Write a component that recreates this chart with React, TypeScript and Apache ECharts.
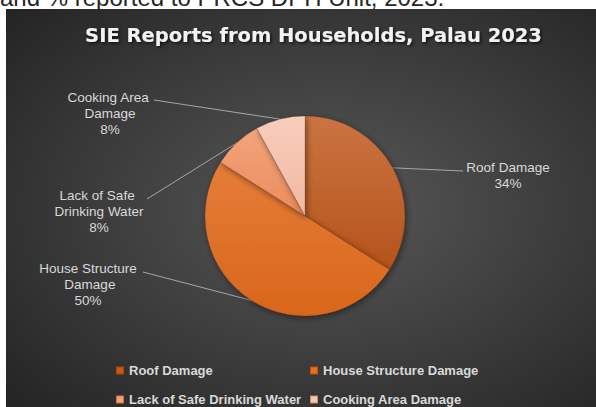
import React, { useEffect, useRef } from "react";
import * as echarts from "echarts";

const categories = [
  "Roof Damage",
  "House Structure Damage",
  "Lack of Safe Drinking Water",
  "Cooking Area Damage",
];
const values = [34, 50, 8, 8];
const titleText = "SIE Reports from Households, Palau 2023";
const captionText = "and % reported to PRCS DPH Unit, 2023.";

// styles
const legendColors = ["#c55a16", "#e66e1e", "#f4a07a", "#f8c7b4"];
const gradTop = ["#cb7442", "#e57d38", "#f3a47c", "#f8cdbc"];
const gradBottom = ["#b5531a", "#d9661b", "#ec8b5c", "#f0b8a2"];

// layout
const labelCenters = [
  [508, 175],
  [88, 284],
  [99, 211],
  [110, 113],
];
const lineEnds = [
  [463, 171],
  [143, 272],
  [147, 199],
  [154, 100],
];
const legendPos = [
  [115, 364],
  [309, 364],
  [115, 393],
  [309, 393],
];

export default function App() {
  const ref = useRef<HTMLDivElement>(null);
  useEffect(() => {
    if (!ref.current) return;
    const chart = echarts.init(ref.current, undefined, { renderer: "svg" });
    const option: any = {
      animation: false,
      backgroundColor: "#ffffff",
      graphic: [
        {
          type: "text",
          z: 0,
          x: 0,
          y: -3,
          style: {
            text: captionText,
            font: "24px 'Liberation Sans', Arial, sans-serif",
            fill: "#262626",
            align: "left",
            verticalAlign: "middle",
          },
        },
        {
          type: "rect",
          z: 1,
          shape: { x: 6, y: 9, width: 590, height: 398 },
          style: {
            fill: new echarts.graphic.RadialGradient(0.55, 0.5, 0.75, [
              { offset: 0, color: "#585858" },
              { offset: 1, color: "#232323" },
            ]),
          },
        },
        {
          type: "text",
          z: 10,
          x: 313.5,
          y: 35,
          style: {
            text: titleText,
            font: "bold 19.5px 'DejaVu Sans', sans-serif",
            fill: "#f2f2f2",
            align: "center",
            verticalAlign: "middle",
            textShadowColor: "rgba(0,0,0,0.7)",
            textShadowBlur: 3,
            textShadowOffsetX: 1.5,
            textShadowOffsetY: 1.5,
          },
        },
      ],
      legend: categories.map((name, i) => ({
        data: [{ name, itemStyle: { color: legendColors[i] } }],
        left: legendPos[i][0],
        top: legendPos[i][1],
        padding: 0,
        itemGap: 0,
        itemWidth: 8,
        itemHeight: 8,
        icon: "rect",
        selectedMode: false,
        textStyle: {
          color: "#d9d9d9",
          fontSize: 13,
          fontWeight: "bold",
          fontFamily: "'Liberation Sans', Arial, sans-serif",
          padding: [0, 0, 0, 0],
        },
      })),
      series: [
        {
          type: "pie",
          center: [305, 216],
          radius: 100,
          startAngle: 90,
          clockwise: true,
          avoidLabelOverlap: false,
          z: 3,
          itemStyle: {
            borderColor: "rgba(90,40,10,0.35)",
            borderWidth: 0.6,
            shadowBlur: 6,
            shadowColor: "rgba(0,0,0,0.45)",
            shadowOffsetX: 1.5,
            shadowOffsetY: 2,
          },
          emphasis: { disabled: true },
          data: categories.map((name, i) => ({
            name,
            value: values[i],
            itemStyle: {
              color: new echarts.graphic.LinearGradient(0, 0, 0, 1, [
                { offset: 0, color: gradTop[i] },
                { offset: 1, color: gradBottom[i] },
              ]),
            },
          })),
          label: {
            show: true,
            position: "outside",
            formatter: (p: any) => `${p.name}\n${Math.round(p.percent)}%`,
            color: "#d9d9d9",
            fontSize: 13.5,
            lineHeight: 16,
            fontFamily: "'Liberation Sans', Arial, sans-serif",
            width: 100,
            overflow: "break",
            align: "center",
          },
          labelLine: {
            show: true,
            length: 10,
            length2: 10,
            smooth: false,
            lineStyle: { color: "#a6a6a6", width: 1 },
          },
          labelLayout: (params: any) => {
            const i = params.dataIndex;
            const out: any = {
              x: labelCenters[i][0],
              y: labelCenters[i][1],
              align: "center",
              verticalAlign: "middle",
            };
            const pts = params.labelLinePoints;
            if (pts && pts[0]) {
              out.labelLinePoints = [pts[0], lineEnds[i], lineEnds[i]];
            }
            return out;
          },
        },
      ],
    };
    chart.setOption(option);
    return () => chart.dispose();
  }, []);
  return (
    <div
      ref={ref}
      style={{ position: "fixed", left: 0, top: 0, width: 596, height: 407 }}
    />
  );
}
